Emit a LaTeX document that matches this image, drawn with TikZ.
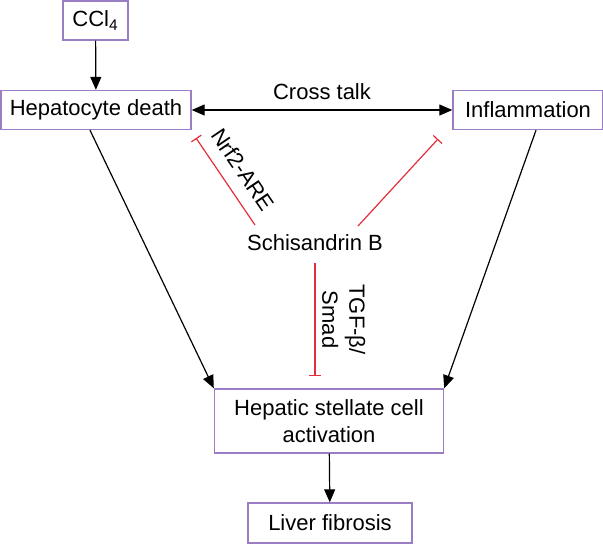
\documentclass[tikz,border=0pt]{standalone}
\usepackage{fontspec}
\setmainfont{Liberation Sans}
\usetikzlibrary{arrows.meta}
\definecolor{boxline}{RGB}{155,125,195}
\definecolor{inhib}{RGB}{230,45,60}
\begin{document}
\begin{tikzpicture}[x=0.5pt,y=-0.5pt,font=\fontsize{11}{13.5}\selectfont]
      \tikzstyle{box}=[draw=boxline,line width=0.7pt,align=center,minimum height=19.5pt]
      \tikzstyle{act}=[-{Triangle[length=6.5pt,width=5.5pt]},line width=0.6pt]
      \tikzstyle{both}=[{Triangle[length=6.5pt,width=5.5pt]}-{Triangle[length=6.5pt,width=5.5pt]},line width=0.6pt]
      \tikzstyle{block}=[-{Bar[width=6pt,line width=0.6pt]},color=inhib,line width=0.6pt]
      \useasboundingbox (0,0) rectangle (603,543);
      \node[box,minimum width=32.5pt] at (95.5,20.5) (ccl) {CCl\textsubscript{4}};
      \node[box,minimum width=95pt] at (96,110) (hep) {Hepatocyte death};
      \node[box,minimum width=75pt] at (528,110) (inf) {Inflammation};
      \node at (315,243) (schB) {Schisandrin B};
      \node[box,minimum width=114.5pt,minimum height=32pt] at (329,421) (hsc) {Hepatic stellate cell\\activation};
      \node[box,minimum width=82pt,minimum height=20pt] at (330,523) (fib) {Liver fibrosis};
      \coordinate (nrfA) at (255,225); \coordinate (nrfB) at (196,138);
      \coordinate (infA) at (358,226); \coordinate (infB) at (438,139);
      \coordinate (tgfA) at (315,263); \coordinate (tgfB) at (315,376);
      \draw[act] (ccl) -- (hep);
      \draw[both] (hep) -- node[above=1.5pt]{Cross talk} (inf);
      \draw[act] ([xshift=-3pt]hep.south) -- (hsc.north west);
      \draw[act] ([xshift=4pt]inf.south) -- (hsc.north east);
      \draw[act] (hsc) -- (fib);
      \draw[block] (nrfA) -- node[sloped,above=3pt,text=black]{Nrf2-ARE} (nrfB);
      \draw[block] (infA) -- (infB);
      \draw[block] (tgfA) -- node[rotate=-90,anchor=south,align=center,text=black]{TGF-β/\\Smad} (tgfB);
    \end{tikzpicture}
\end{document}
